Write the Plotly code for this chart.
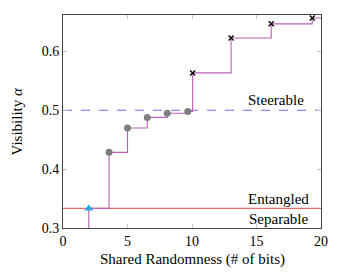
import plotly.graph_objects as go

# Data
sep_x = [2.0]
sep_y = [1/3]
circ_x = [3.57, 5.0, 6.53, 8.08, 9.67]
circ_y = [0.4286, 0.470, 0.488, 0.495, 0.498]
cross_x = [10.05, 13.03, 16.14, 19.32]
cross_y = [0.5636, 0.623, 0.647, 0.657]
x_range = [0, 20]
y_range = [0.3, 0.662]
x_ticks = [0, 5, 10, 15, 20]
y_ticks = [0.3, 0.4, 0.5, 0.6]
entangled_bound = 1/3
steering_bound = 0.5

FONT = "Liberation Serif"
PURPLE = "#b660b6"

step_x = sep_x + circ_x + cross_x + [x_range[1]]
step_y = sep_y + circ_y + cross_y + [cross_y[-1]]
# vertical start from bottom of the axis
step_x = [sep_x[0]] + step_x
step_y = [y_range[0] - 0.05] + step_y

fig = go.Figure()
fig.add_trace(go.Scatter(x=x_range, y=[entangled_bound] * 2, mode="lines",
                         line=dict(color="#f06868", width=1.1), showlegend=False))
fig.add_trace(go.Scatter(x=x_range, y=[steering_bound] * 2, mode="lines",
                         line=dict(color="#6b6bff", width=1.1, dash="dash"), showlegend=False))
fig.add_trace(go.Scatter(x=step_x, y=step_y, mode="lines", line_shape="hv",
                         line=dict(color=PURPLE, width=1.1), showlegend=False))
fig.add_trace(go.Scatter(x=sep_x, y=sep_y, mode="markers",
                         marker=dict(symbol="triangle-up", size=8, color="#26a8e6"),
                         showlegend=False, cliponaxis=False))
fig.add_trace(go.Scatter(x=circ_x, y=circ_y, mode="markers",
                         marker=dict(symbol="circle", size=7, color="#7f7f7f"),
                         showlegend=False, cliponaxis=False))
fig.add_trace(go.Scatter(x=cross_x, y=cross_y, mode="markers",
                         marker=dict(symbol="x-thin", size=5, color="black",
                                     line=dict(color="black", width=1.4)),
                         showlegend=False, cliponaxis=False))

TXT = dict(family=FONT, size=15, color="black")
fig.add_annotation(x=16.53, y=0.517, text="Steerable", showarrow=False, font=TXT)
fig.add_annotation(x=16.74, y=0.350, text="Entangled", showarrow=False, font=TXT)
fig.add_annotation(x=16.74, y=0.316, text="Separable", showarrow=False, font=TXT)
# axis titles
fig.add_annotation(xref="paper", yref="paper", x=0.5, y=0, yanchor="middle",
                   yshift=-31, text="Shared Randomness (# of bits)", showarrow=False, font=TXT)
fig.add_annotation(xref="paper", yref="paper", x=0, y=0.5, xanchor="center",
                   xshift=-47, textangle=-90, text="Visibility <i>α</i>",
                   showarrow=False, font=TXT)

axis_common = dict(showgrid=False, zeroline=False, showline=True, linecolor="#444",
                   linewidth=1, mirror="allticks", ticks="inside", ticklen=4,
                   tickcolor="#c8c8c8", automargin=False,
                   tickfont=dict(family=FONT, size=14, color="black"))
fig.update_xaxes(range=x_range, tickvals=x_ticks, **axis_common)
fig.update_yaxes(range=y_range, tickvals=y_ticks, **axis_common)
fig.update_layout(width=337, height=272, margin=dict(l=63, r=16, t=15, b=44),
                  plot_bgcolor="white", paper_bgcolor="white")
fig.write_html("out.html", config={"displayModeBar": False},
               post_script="document.body.style.margin='0';")
